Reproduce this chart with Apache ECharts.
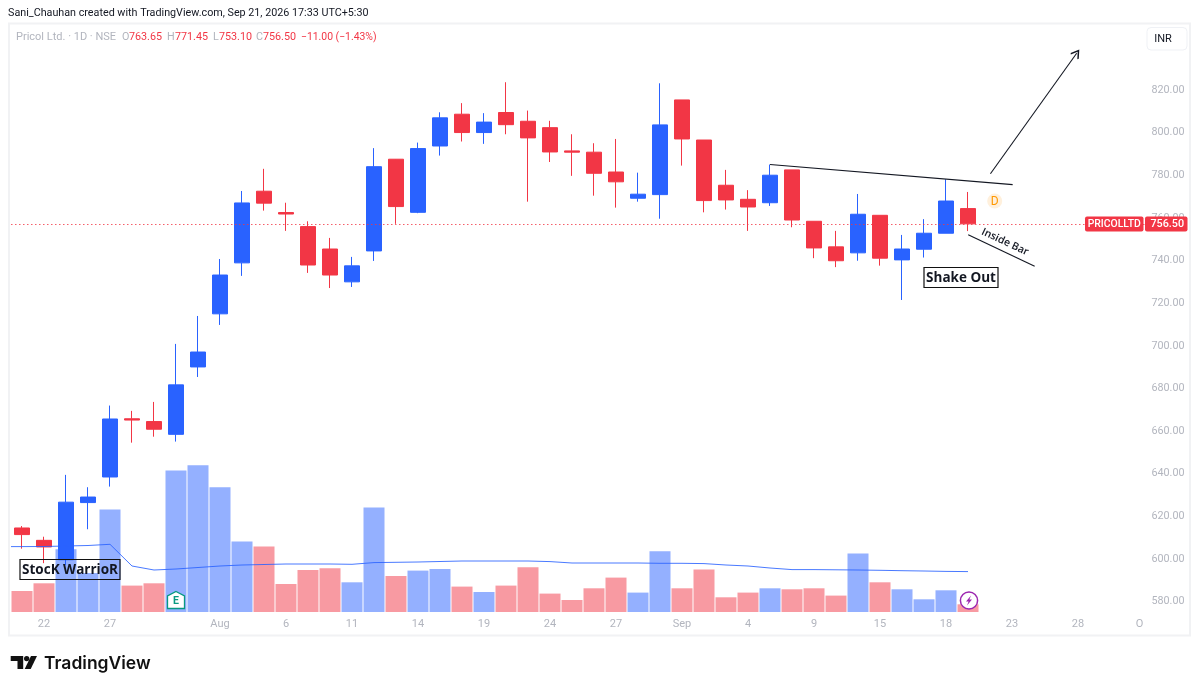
<!DOCTYPE html>
<html><head><meta charset="utf-8">
<style>html,body{margin:0;padding:0;background:#fff}#c{width:1200px;height:690px}</style>
<script src="https://cdn.jsdelivr.net/npm/echarts@6/dist/echarts.min.js"></script>
</head><body><div id="c"></div>
<script>
const categories = ['21','22','23','24','27','28','29','30','31','Aug','4','5','6','7','8','11','12','13','14','15','18','19','20','21','24','25','26','27','28','31','Sep','2','3','4','5','8','9','10','12','15','16','17','18','19','22','23','24','25','28','29','30','O'];
const labelledIndexes = [1,4,9,12,15,18,21,24,27,30,33,36,39,42,45,48,51];
const priceTicks = [580,600,620,640,660,680,700,720,740,760,780,800,820];
const opens  = [613.9,608.1,599.0,625.8,637.8,665.1,663.8,657.8,689.4,714.3,738.2,771.8,761.8,755.2,744.7,729.3,743.8,786.8,761.9,793.0,807.9,799.3,808.7,804.6,801.6,790.7,790.1,780.8,768.5,770.2,814.6,795.8,774.6,768.0,766.4,781.8,757.7,745.7,742.9,760.5,739.6,744.6,752.1,763.65];
const closes = [610.8,605.0,626.0,628.4,665.0,664.5,660.2,681.0,696.4,732.5,766.3,766.2,761.1,737.2,732.5,736.8,783.3,764.6,791.8,806.2,799.3,804.2,803.0,796.8,790.2,790.1,780.2,776.2,770.4,802.9,796.3,767.4,767.7,764.4,779.3,758.3,745.2,739.2,761.0,740.4,744.7,752.1,767.2,756.50];
const lows   = [604.2,597.4,596.5,613.3,633.3,653.9,656.7,654.4,684.7,709.1,732.1,762.7,753.2,733.5,726.4,726.9,739.1,756.5,761.5,788.5,795.1,794.0,798.5,766.9,785.5,779.0,769.7,764.1,766.9,758.9,783.8,761.9,763.2,753.2,764.9,754.9,740.4,736.2,739.2,736.9,720.8,740.7,752.1,753.10];
const highs  = [614.8,609.8,638.8,633.0,671.3,668.8,673.0,700.2,713.3,740.0,771.9,782.3,766.4,757.7,749.9,741.0,792.0,786.9,794.6,808.8,813.1,808.4,822.9,809.6,804.8,798.5,794.3,796.3,780.5,822.4,814.6,795.8,781.8,772.3,784.3,781.8,757.7,753.2,770.5,760.5,751.3,758.7,777.4,771.45];
const volumes = [210,287,627,390,1024,264,287,1414,1467,1247,704,654,280,420,437,297,1044,360,414,430,254,200,264,447,184,120,237,344,194,607,237,424,147,194,237,227,237,164,584,297,227,127,217,77];
const volumeMA = [654,655,660,665,677,460,420,430,445,460,470,475,480,480,480,477,494,497,500,505,510,510,510,510,504,490,490,490,490,487,487,484,470,460,440,424,424,422,420,417,413,410,406,404];
const trendLine = [[34,784.3],[45.03,774.9]];
const arrowLine = [[44.02,780.0],[47.94,836.5]];
const insideBarLine = [[43.01,751.4],[46.03,736.6]];
const priceLineLevel = 756.2;

const BLUE='#2962FF', RED='#F23645', GRAY='#B2B5BE', INK='#131722';
const FONT='Roboto, "Open Sans", sans-serif';
const seg = p => [{coord:p[0]},{coord:p[1]}];

const chart = echarts.init(document.getElementById('c'),null,{renderer:'canvas'});

const txt=(x,y,text,fill,size,extra)=>({type:'text',z:50,x,y,rotation:(extra&&extra.rotation)||0,style:{text,fill,font:(extra&&extra.weight||'400')+' '+size+'px '+(extra&&extra.family||FONT),textAlign:(extra&&extra.align)||'left',textVerticalAlign:'middle'}});

chart.setOption({
  animation:false,
  backgroundColor:'#fff',
  grid:{left:11,top:24,width:1144,height:588},
  xAxis:[
    {type:'category',data:categories,boundaryGap:true,axisLine:{show:false},axisTick:{show:false},splitLine:{show:false},
     axisLabel:{color:GRAY,fontFamily:FONT,fontSize:11,margin:7,hideOverlap:false,
       interval:i=>labelledIndexes.includes(i),
       formatter:v=>v==='O'?'{o|O}':v,rich:{o:{color:GRAY,fontFamily:FONT,fontSize:11,padding:[0,9,0,0]}}}},
    {type:'value',min:-0.5,max:51.5,show:false}
  ],
  yAxis:[
    {type:'value',position:'right',min:574.5,max:850.2,axisLine:{show:false},axisTick:{show:false},splitLine:{show:false},
     axisLabel:{customValues:priceTicks,color:GRAY,fontFamily:FONT,fontSize:10.75,margin:-3.5,verticalAlign:'top',lineHeight:3,formatter:v=>v.toFixed(2)}},
    {type:'value',position:'right',min:0,max:5880,show:false}
  ],
  series:[
    {type:'bar',name:'Volume',xAxisIndex:0,yAxisIndex:1,barWidth:21,z:1,
     data:volumes.map((v,i)=>({value:v,itemStyle:{color:closes[i]>=opens[i]?'rgba(41,98,255,0.5)':'rgba(242,54,69,0.5)'}}))},
    {type:'line',name:'Volume MA',xAxisIndex:1,yAxisIndex:1,z:3,symbol:'none',smooth:false,
     lineStyle:{color:BLUE,width:1,opacity:.85},
     data:[[-0.5,volumeMA[0]]].concat(volumeMA.map((v,i)=>[i,v]))},
    {type:'candlestick',name:'Pricol Ltd.',xAxisIndex:0,yAxisIndex:0,barWidth:16,z:2,
     itemStyle:{color:BLUE,color0:RED,borderColor:BLUE,borderColor0:RED,borderWidth:1},
     data:opens.map((o,i)=>[o,closes[i],lows[i],highs[i]]),
     markLine:{silent:true,symbol:'none',animation:false,label:{show:false},
       lineStyle:{color:RED,width:1,opacity:.8,type:[1.5,2.5]},data:[{yAxis:priceLineLevel}]}},
    {type:'line',name:'Drawings',xAxisIndex:1,yAxisIndex:0,z:5,data:[],symbol:'none',
     markLine:{silent:true,animation:false,label:{show:false},symbol:'none',
       lineStyle:{color:INK,width:1.1,type:'solid'},
       data:[
         seg(trendLine),
         seg(insideBarLine),
         [{coord:arrowLine[0],symbol:'none'},
          {coord:arrowLine[1],symbol:'path://M5 0L10 7L9 8L5 2.5L1 8L0 7Z',symbolSize:[10,9]}]
       ]}}
  ],
  graphic:{elements:[
    {type:'rect',z:0,silent:true,shape:{x:9,y:23.5,width:1181,height:612},style:{fill:'none',stroke:'#F1F2F4',lineWidth:2}},
    txt(8,13,'Sani_Chauhan created with TradingView.com, Sep 21, 2026 17:33 UTC+5:30',INK,10.75),
    txt(16,37,'Pricol Ltd. · 1D · NSE',GRAY,11),
    txt(122,37,'O',GRAY,10.75),txt(129,37,'763.65',RED,10.75),
    txt(167,37,'H',GRAY,10.75),txt(175,37,'771.45',RED,10.75),
    txt(213,37,'L',GRAY,10.75),txt(219,37,'753.10',RED,10.75),
    txt(256,37,'C',GRAY,10.75),txt(263,37,'756.50',RED,10.75),
    txt(301,37,'−11.00 (−1.43%)',RED,10.4),
    {type:'rect',z:40,shape:{x:1147,y:27.5,width:40,height:22.5,r:4},style:{fill:'#fff',stroke:'#EFF1F5',lineWidth:1}},
    txt(1163,39.5,'INR',INK,11,{align:'center'}),
    {type:'rect',z:40,shape:{x:1085,y:216.5,width:58.5,height:15,r:2},style:{fill:RED}},
    {type:'rect',z:40,shape:{x:1145,y:216.5,width:42.5,height:15,r:2},style:{fill:RED}},
    txt(1114.2,224.5,'PRICOLLTD','#fff',10.4,{align:'center',weight:'500'}),
    txt(1167.3,224.5,'756.50','#fff',10.8,{align:'center',weight:'500'}),
    {type:'rect',z:40,shape:{x:20,y:559.5,width:100,height:20},style:{fill:'none',stroke:'#111',lineWidth:1.2}},
    txt(70,570,'StocK WarrioR',INK,13.5,{align:'center',weight:'700',family:'"Open Sans",sans-serif'}),
    {type:'rect',z:40,shape:{x:924,y:267.5,width:74,height:20},style:{fill:'#fff',stroke:'#111',lineWidth:1.2}},
    txt(961,278,'Shake Out',INK,13.5,{align:'center',weight:'700',family:'"Open Sans",sans-serif'}),
    txt(1005,242,'Inside Bar',INK,10.5,{align:'center',rotation:-0.44,weight:'600',family:'"Open Sans",sans-serif'}),
    {type:'circle',z:40,shape:{cx:994.7,cy:201,r:7.5},style:{fill:'#FFF0DC'}},
    txt(994.7,201.5,'D','#FF9800',12,{align:'center'}),
    {type:'polygon',z:40,shape:{points:[[176,591.5],[184.5,596],[184.5,608.5],[167.5,608.5],[167.5,596]]},style:{fill:'#fff',stroke:'#089981',lineWidth:1.3}},
    txt(176,601,'E','#089981',10.5,{align:'center',weight:'700'}),
    {type:'circle',z:40,shape:{cx:969,cy:600.5,r:8.6},style:{fill:'#fff',stroke:'#9C27B0',lineWidth:1.5}},
    {type:'polygon',z:41,shape:{points:[[971,595.5],[966,601.5],[968.6,601.5],[967,605.5],[972,599.5],[969.4,599.5]]},style:{fill:'#9C27B0'}},
    {type:'polygon',z:40,shape:{points:[[10.7,656],[23.2,656],[23.2,669],[17.5,669],[17.5,661],[10.7,661]]},style:{fill:'#111'}},
    {type:'circle',z:40,shape:{cx:26.7,cy:658.6,r:2.7},style:{fill:'#111'}},
    {type:'polygon',z:40,shape:{points:[[31,656],[37,656],[30.7,669],[24.7,669]]},style:{fill:'#111'}},
    txt(44,664,'TradingView','#111',17.5,{weight:'600',family:'Inter,sans-serif'})
  ]}
});
</script></body></html>
